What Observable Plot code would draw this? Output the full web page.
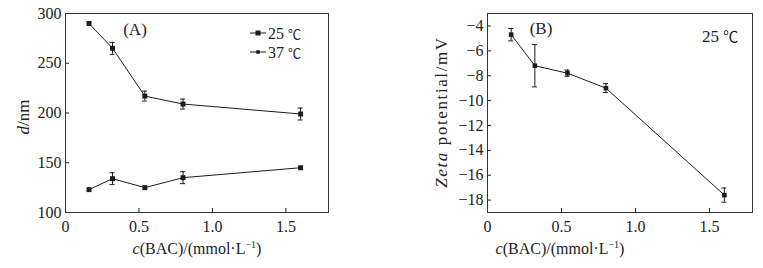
<!DOCTYPE html>
<html><head><meta charset="utf-8">
<script src="https://cdn.jsdelivr.net/npm/d3@7"></script>
<script src="https://cdn.jsdelivr.net/npm/@observablehq/plot@0.6"></script>
<style>
body{margin:0;background:#fff;}
#wrap{display:flex;width:763px;height:268px;overflow:hidden;}
svg{font-family:"Liberation Serif","Times New Roman",serif;}
.deg{font-family:"Noto Sans CJK SC","Liberation Serif",serif;}
</style></head><body><div id="wrap"></div>
<script>
// ---- data ----
const conc = [0.16, 0.32, 0.54, 0.8, 1.6];
const d25 = [290, 265, 217, 209, 199];
const d25Err = [0, 6, 5, 5, 6];
const d37 = [123, 134, 125, 135, 145];
const d37Err = [0, 6, 0, 6, 0];
const zeta = [-4.7, -7.2, -7.8, -9.0, -17.6];
const zetaErr = [0.5, 1.7, 0.25, 0.36, 0.57];
const seriesTemps = ["25", "37"];
const xTicks = [0, 0.5, 1.0, 1.5];
const dTicks = [100, 150, 200, 250, 300];
const zTicks = [-18, -16, -14, -12, -10, -8, -6, -4];

const ink = "#1c1c1c";
const fmtX = d => d === 0 ? "0" : d.toFixed(1);
const capW = 0.017;

const rowsA = conc.flatMap((c, i) => [
  {c, v: d25[i], e: d25Err[i], s: seriesTemps[0]},
  {c, v: d37[i], e: d37Err[i], s: seriesTemps[1]}
]);
const rowsB = conc.map((c, i) => ({c, v: zeta[i], e: zetaErr[i]}));

function errMarks(rows) {
  const er = rows.filter(d => d.e > 0);
  return [
    Plot.ruleX(er, {x: "c", y1: d => d.v - d.e, y2: d => d.v + d.e, stroke: ink, strokeWidth: 1}),
    Plot.ruleY(er, {y: d => d.v + d.e, x1: d => d.c - capW, x2: d => d.c + capW, stroke: ink, strokeWidth: 1}),
    Plot.ruleY(er, {y: d => d.v - d.e, x1: d => d.c - capW, x2: d => d.c + capW, stroke: ink, strokeWidth: 1})
  ];
}

const common = {
  height: 268,
  marginTop: 13,
  marginBottom: 56,
  style: {fontSize: "16px", fontFamily: "'Liberation Serif','Times New Roman',serif", color: "#222", background: "#fff", overflow: "visible"}
};

const plotA = Plot.plot({
  ...common,
  width: 380,
  marginLeft: 65,
  marginRight: 52,
  x: {domain: [0, 1.79], ticks: xTicks, tickFormat: fmtX, tickSize: -4, tickPadding: 12, label: null},
  y: {domain: [100, 300], ticks: dTicks, tickSize: -4, tickPadding: 8, label: null},
  marks: [
    Plot.frame({stroke: "#333", strokeWidth: 1}),
    Plot.line(rowsA, {x: "c", y: "v", z: "s", stroke: ink, strokeWidth: 1}),
    ...errMarks(rowsA),
    Plot.dot(rowsA, {x: "c", y: "v", symbol: "square", r: 2.8, fill: ink, stroke: "none"})
  ]
});

const plotB = Plot.plot({
  ...common,
  width: 383,
  marginLeft: 107,
  marginRight: 11,
  x: {domain: [0, 1.79], ticks: xTicks, tickFormat: fmtX, tickSize: -4, tickPadding: 12, label: null},
  y: {domain: [-19, -3], ticks: zTicks, tickSize: -4, tickPadding: 8, label: null},
  marks: [
    Plot.frame({stroke: "#333", strokeWidth: 1}),
    Plot.line(rowsB, {x: "c", y: "v", stroke: ink, strokeWidth: 1}),
    ...errMarks(rowsB),
    Plot.dot(rowsB, {x: "c", y: "v", symbol: "square", r: 2.6, fill: ink, stroke: "none"})
  ]
});

const wrap = document.getElementById("wrap");
wrap.appendChild(plotA);
wrap.appendChild(plotB);

function xLabel(svg, cx) {
  const t = d3.select(svg).append("text")
    .attr("x", cx).attr("y", 254).attr("text-anchor", "middle")
    .attr("font-size", 16).attr("fill", "#222");
  t.append("tspan").attr("font-style", "italic").text("c");
  t.append("tspan").text("(BAC)/(mmol·L");
  t.append("tspan").attr("dy", -6).attr("font-size", 10).text("−1");
  t.append("tspan").attr("dy", 6).text(")");
}
xLabel(plotA, 197);
xLabel(plotB, 180);

function tempText(sel, temp, degSize) {
  sel.append("tspan").text(temp + " ");
  sel.append("tspan").attr("class", "deg").attr("font-size", degSize).text("℃");
}

// y labels
{
  const t = d3.select(plotA).append("text")
    .attr("transform", "translate(29,117) rotate(-90)")
    .attr("text-anchor", "middle").attr("font-size", 17).attr("fill", "#222");
  t.append("tspan").attr("font-style", "italic").text("d");
  t.append("tspan").text("/nm");
}
{
  const t = d3.select(plotB).append("text")
    .attr("transform", "translate(67,112) rotate(-90)")
    .attr("text-anchor", "middle").attr("font-size", 17).attr("letter-spacing", 1.6).attr("fill", "#222");
  t.append("tspan").attr("font-style", "italic").text("Zeta");
  t.append("tspan").text(" potential/mV");
}

// panel tags
d3.select(plotA).append("text").attr("x", 135).attr("y", 35).attr("text-anchor", "middle")
  .attr("font-size", 17).attr("fill", "#222").text("(A)");
d3.select(plotB).append("text").attr("x", 161).attr("y", 34).attr("text-anchor", "middle")
  .attr("font-size", 17).attr("fill", "#222").text("(B)");
tempText(d3.select(plotB).append("text").attr("x", 322).attr("y", 42).attr("text-anchor", "start")
  .attr("font-size", 17).attr("fill", "#222"), "25", 15);

// legend in A
const leg = d3.select(plotA).append("g");
seriesTemps.forEach((temp, i) => {
  const y = 33 + i * 19;
  leg.append("line").attr("x1", 250).attr("x2", 266).attr("y1", y).attr("y2", y).attr("stroke", ink);
  const s = i === 0 ? 5 : 3.5;
  leg.append("rect").attr("x", 258 - s / 2).attr("y", y - s / 2).attr("width", s).attr("height", s).attr("fill", ink);
  tempText(leg.append("text").attr("x", 268).attr("y", y + 6).attr("text-anchor", "start")
    .attr("font-size", 16).attr("fill", "#222"), temp, 13);
});
</script></body></html>
